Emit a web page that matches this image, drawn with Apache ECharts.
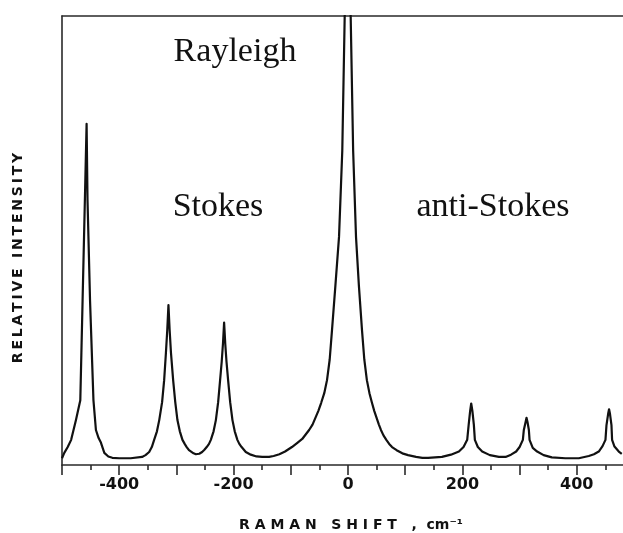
<!DOCTYPE html>
<html>
<head>
<meta charset="utf-8">
<script src="https://cdn.jsdelivr.net/npm/echarts@6/dist/echarts.min.js"></script>
<style>
html,body{margin:0;padding:0;background:#fff;}
#chart{width:623px;height:533px;}
</style>
</head>
<body>
<div id="chart"></div>
<script>
// Raman shift (cm-1)
var ramanShift = [
  -500, -496, -490, -484, -475.6, -468, -464, -460, -457, -455.4, -451, -445, -440.7, -436, -432, -426, -419, -412,
  -400, -380, -360, -354, -347.6, -343, -338.9, -334, -330, -325, -321.4, -318.3, -316, -313.9, -311.8, -309.5, -305.7, -302, -298.2, -294, -289.4, -285, -282, -278, -274.8, -270, -266,
  -260, -255, -251, -247, -243, -239.8, -235, -231, -227, -223.6, -220.8, -218.6, -216.6, -214.6, -212.4, -209.6, -206, -202, -198, -193.4, -190, -186, -182, -178.7, -170, -160, -150, -138,
  -130, -120, -110, -98, -88, -80, -68, -62, -57, -52, -47, -41.5, -36.7, -32, -28, -22, -15.7, -10, -5.8, 0,
  4.7, 9, 14, 19, 24.5, 28.5, 33, 37.5, 42, 46, 50, 54, 57.6, 62, 67, 72, 77, 85, 95, 105, 119, 130,
  140, 164.2, 180, 193.9, 202, 208.4, 211, 213.5, 215.4, 217.5, 220, 221.8, 227, 234.6, 248, 263.8,
  275.5, 285, 294, 300, 305.7, 307.4, 310.5, 312.1, 313.8, 316.2, 317.4, 323, 330.7, 342, 356.3,
  380, 403.5, 421, 430, 438.4, 445, 450.1, 451.9, 454.8, 456.4, 458, 460.6, 461.7, 465.9, 473.4, 478.6
];
// Relative intensity (0-100 = plot height)
var intensity = [
  1.5, 2.7, 4.0, 5.6, 10, 14.4, 36.7, 59, 76, 59, 36.7, 14.4, 7.8, 6.0, 5.0, 2.7, 1.9, 1.6,
  1.5, 1.5, 1.8, 2.2, 2.9, 4.0, 5.6, 7.5, 10, 14, 18.9, 25, 30, 35.6, 30, 25, 18.9, 14, 10, 7.5, 5.6, 4.6, 4.0, 3.3, 2.9, 2.6, 2.4,
  2.5, 2.9, 3.4, 4.0, 4.7, 5.6, 7.5, 10, 14, 18.9, 23, 27, 31.7, 27, 23, 18.9, 14, 10, 7.5, 5.6, 4.7, 4.0, 3.4, 2.9, 2.3, 1.9, 1.8, 1.8,
  2.0, 2.4, 3.0, 4.0, 5.0, 5.8, 7.8, 9, 10.5, 12, 13.8, 16, 18.9, 23.5, 30, 40, 50.8, 70, 99.8, 125,
  99.8, 70, 50.8, 40, 30, 23.5, 18.9, 16, 13.8, 12, 10.5, 9, 7.8, 6.6, 5.6, 4.7, 4.0, 3.3, 2.6, 2.2, 1.8, 1.6,
  1.6, 1.8, 2.3, 3.0, 4.0, 5.6, 9, 12, 13.7, 12, 9, 5.6, 4.0, 3.0, 2.2, 1.8,
  1.8, 2.3, 3.0, 4.0, 5.6, 7.8, 9.6, 10.5, 9.6, 7.8, 5.6, 3.8, 3.0, 2.2, 1.7,
  1.5, 1.5, 2.0, 2.4, 3.0, 4.2, 5.6, 8.9, 11.4, 12.4, 11.4, 8.9, 5.6, 4.1, 3.0, 2.5
];
var xTickLabels = [-400, -200, 0, 200, 400];
var annotations = ['Rayleigh', 'Stokes', 'anti-Stokes'];
var xTitle = 'R A M A N   S H I F T   ,  cm\u207B\u00B9';
var yTitle = 'RELATIVE INTENSITY';

var seriesData = ramanShift.map(function (x, i) { return [x, intensity[i]]; });
var spaced = yTitle.split('').join('\u2009');

var chart = echarts.init(document.getElementById('chart'), null, {renderer: 'canvas'});
var axisColor = '#2a2a2a';
chart.setOption({
  animation: false,
  backgroundColor: '#ffffff',
  grid: {left: 62, right: -11, top: 16, bottom: 68, containLabel: false, outerBoundsMode: 'none'},
  xAxis: [{
    type: 'value', position: 'bottom', min: -500, max: 500, interval: 100,
    axisLine: {show: true, onZero: false, lineStyle: {color: axisColor, width: 1.6}},
    axisTick: {show: true, length: 10, lineStyle: {color: axisColor, width: 1.6}},
    minorTick: {show: true, splitNumber: 2, length: 5, lineStyle: {color: axisColor, width: 1.6}},
    splitLine: {show: false},
    axisLabel: {
      margin: 12, color: '#111', fontFamily: 'DejaVu Sans', fontWeight: 'bold', fontSize: 16,
      formatter: function (v) { return xTickLabels.indexOf(v) >= 0 ? String(v) : ''; }
    }
  }, {
    type: 'value', position: 'top', min: -500, max: 500,
    axisLine: {show: true, onZero: false, lineStyle: {color: axisColor, width: 1.6}},
    axisTick: {show: false}, axisLabel: {show: false}, splitLine: {show: false}
  }],
  yAxis: {
    type: 'value', min: 0, max: 100,
    axisLine: {show: true, onZero: false, lineStyle: {color: axisColor, width: 1.6}},
    axisTick: {show: false}, axisLabel: {show: false}, splitLine: {show: false}
  },
  series: [{
    type: 'line', xAxisIndex: 0, data: seriesData, showSymbol: false, symbol: 'none',
    smooth: false, clip: true,
    lineStyle: {color: '#111', width: 2.2, join: 'round'}
  }],
  graphic: [
    {type: 'text', x: 235, y: 52, style: {text: annotations[0], font: '34px "Liberation Serif"', fill: '#111', align: 'center', verticalAlign: 'middle', textAlign: 'center', textVerticalAlign: 'middle'}},
    {type: 'text', x: 218, y: 207, style: {text: annotations[1], font: '34px "Liberation Serif"', fill: '#111', align: 'center', verticalAlign: 'middle', textAlign: 'center', textVerticalAlign: 'middle'}},
    {type: 'text', x: 493, y: 207, style: {text: annotations[2], font: '34px "Liberation Serif"', fill: '#111', align: 'center', verticalAlign: 'middle', textAlign: 'center', textVerticalAlign: 'middle'}},
    {type: 'text', x: 351, y: 525, style: {text: xTitle, font: 'bold 14px "DejaVu Sans"', fill: '#111', align: 'center', verticalAlign: 'middle', textAlign: 'center', textVerticalAlign: 'middle'}},
    {type: 'text', x: 18, y: 258, rotation: Math.PI / 2, style: {text: spaced, font: 'bold 14px "DejaVu Sans"', fill: '#111', align: 'center', verticalAlign: 'middle', textAlign: 'center', textVerticalAlign: 'middle'}}
  ]
});
</script>
</body>
</html>
